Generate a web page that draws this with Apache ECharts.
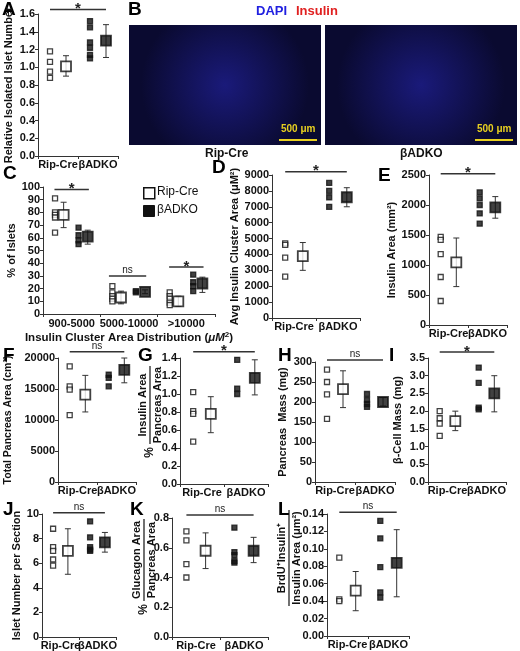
<!DOCTYPE html>
<html><head><meta charset="utf-8">
<script src="https://cdn.jsdelivr.net/npm/echarts@6/dist/echarts.min.js"></script>
<style>html,body{margin:0;background:#fff}#main{width:520px;height:651px}</style>
</head><body><div id="main"></div>
<script>
var cats = ['Rip-Cre', 'βADKO'];
var cCats = ['900-5000', '5000-10000', '>10000'];

// panel A
var aRip = [1.18, 1.06, 0.95, 0.88], aKO = [1.52, 1.45, 1.28, 1.22, 1.14, 1.10];
var aMean = [1.01, 1.30], aErr = [[0.90, 1.13], [1.11, 1.48]];
// panel C (one row per distribution bin)
var cRip = [[91, 80, 78, 76, 64], [22, 17, 14, 12, 10], [17, 14, 12, 9, 7]];
var cKO = [[68, 62, 58, 55], [18, 17], [31, 25, 22, 18]];
var cRipMean = [78, 13, 10], cKOMean = [61, 17.5, 24];
var cRipErr = [[68, 88], [8, 18], [6, 14]], cKOErr = [[55, 66], [16, 19], [17, 29]];
// panel D
var dRip = [4700, 4600, 3800, 2600], dKO = [8500, 8000, 7600, 7000];
var dMean = [3900, 7600], dErr = [[3000, 4750], [7000, 8200]];
// panel E
var eRip = [1470, 1420, 1180, 800, 400], eKO = [2210, 2110, 2000, 1860, 1690];
var eMean = [1045, 1960], eErr = [[640, 1450], [1780, 2140]];
// panel F
var fRip = [18650, 15430, 14900, 10800], fKO = [20380, 17300, 16800, 15430];
var fMean = [14100, 18100], fErr = [[11300, 17200], [16000, 20000]];
// panel G
var gRip = [1.02, 0.81, 0.78, 0.47], gKO = [1.42, 1.38, 1.06, 1.00];
var gMean = [0.78, 1.18], gErr = [[0.57, 0.97], [0.99, 1.38]];
// panel H
var hRip = [281, 250, 219, 158], hKO = [220, 205, 195, 188];
var hMean = [232, 200], hErr = [[186, 278], [190, 211]];
// panel I
var iRip = [2.0, 1.8, 1.65, 1.3], iKO = [3.23, 2.8, 2.1, 2.05];
var iMean = [1.72, 2.5], iErr = [[1.45, 2.0], [1.98, 3.0]];
// panel J
var jRip = [8.8, 7.3, 7.0, 6.3, 5.8], jKO = [9.4, 8.1, 7.3, 7.1, 7.0];
var jMean = [7.0, 7.7], jErr = [[5.1, 8.8], [6.9, 8.5]];
// panel K
var kRip = [0.71, 0.65, 0.49, 0.40], kKO = [0.735, 0.57, 0.55, 0.51, 0.50];
var kMean = [0.58, 0.58], kErr = [[0.46, 0.70], [0.50, 0.67]];
// panel L
var lRip = [0.09, 0.042, 0.040], lKO = [0.132, 0.112, 0.079, 0.05, 0.044];
var lMean = [0.052, 0.084], lErr = [[0.029, 0.074], [0.045, 0.122]];

var FONT = 'Liberation Sans, Arial, sans-serif';
var chart = echarts.init(document.getElementById('main'));
var grids = [], xAxes = [], yAxes = [], series = [], graphics = [];
var sigText = {};

function errRender(params, api) {
    var x = api.value(0);
    var lo = api.coord([x, api.value(1)]), hi = api.coord([x, api.value(2)]);
    var st = { stroke: '#333', lineWidth: 1 };
    return { type: 'group', children: [
        { type: 'line', shape: { x1: lo[0], y1: lo[1], x2: hi[0], y2: hi[1] }, style: st },
        { type: 'line', shape: { x1: lo[0] - 3, y1: lo[1], x2: lo[0] + 3, y2: lo[1] }, style: st },
        { type: 'line', shape: { x1: hi[0] - 3, y1: hi[1], x2: hi[0] + 3, y2: hi[1] }, style: st }
    ] };
}
function sigRender(params, api) {
    var a = api.coord([api.value(0), api.value(2)]), b = api.coord([api.value(1), api.value(2)]);
    var txt = sigText[params.seriesIndex];
    var star = txt === '*';
    return { type: 'group', children: [
        { type: 'line', shape: { x1: a[0], y1: a[1], x2: b[0], y2: b[1] }, style: { stroke: '#333', lineWidth: 1.5 } },
        { type: 'text', style: { x: (a[0] + b[0]) / 2, y: a[1] + (star ? 7 : -1), text: txt, align: 'center', verticalAlign: 'bottom',
            font: star ? 'bold 15px ' + FONT : '10px ' + FONT, fill: '#222' } }
    ] };
}

// each panel: value x axis (placement, ticks) + category x axis (labels only)
function addAxes(g, nCats, labels, yMin, yMax, yInt, yName, nameGap, fmt, labelMargin) {
    var i = grids.length;
    grids.push({ left: g[0], top: g[1], width: g[2], height: g[3] });
    var tv = [];
    for (var k = 0; k <= nCats; k++) tv.push(k);
    xAxes.push({ gridIndex: i, type: 'value', min: 0, max: nCats,
        axisLine: { lineStyle: { color: '#333' } }, splitLine: { show: false },
        axisTick: { customValues: tv, length: 3, lineStyle: { color: '#333' } },
        axisLabel: { show: false } });
    xAxes.push({ gridIndex: i, type: 'category', data: labels, position: 'bottom',
        axisLine: { show: false }, axisTick: { show: false }, splitLine: { show: false },
        axisLabel: { interval: 0, margin: labelMargin || 3, color: '#111', fontWeight: 'bold', fontSize: 11, fontFamily: FONT } });
    yAxes.push({ gridIndex: i, type: 'value', min: yMin, max: yMax, interval: yInt,
        name: yName, nameLocation: 'middle', nameGap: nameGap,
        nameTextStyle: { color: '#111', fontWeight: 'bold', fontSize: 11, fontFamily: FONT },
        axisLine: { show: true, lineStyle: { color: '#333' } }, splitLine: { show: false },
        axisTick: { length: 3, lineStyle: { color: '#333' } },
        axisLabel: { margin: 3, color: '#111', fontSize: 11, fontWeight: 'bold', fontFamily: FONT,
            formatter: fmt || function (v) { return String(v); } } });
    return i;
}
function pts(i, x, vals, filled, size) {
    series.push({ type: 'scatter', xAxisIndex: 2 * i, yAxisIndex: i, symbol: 'rect', symbolSize: size, z: 5,
        data: vals.map(function (v) { return [x, v]; }),
        itemStyle: { color: filled ? '#111' : '#fff', borderColor: '#111', borderWidth: size > 6 ? 1.8 : 1.3 } });
}
function group(i, base, off, rip, ko, mean, err) {
    pts(i, base + off[0], rip, false, 5);
    pts(i, base + off[2], ko, true, 5);
    series.push({ type: 'custom', xAxisIndex: 2 * i, yAxisIndex: i, renderItem: errRender, z: 3,
        data: [[base + off[1], err[0][0], err[0][1]], [base + off[3], err[1][0], err[1][1]]] });
    pts(i, base + off[1], [mean[0]], false, 10);
    pts(i, base + off[3], [mean[1]], true, 10);
}
function sig(i, x1, x2, y, txt) {
    sigText[series.length] = txt;
    series.push({ type: 'custom', xAxisIndex: 2 * i, yAxisIndex: i, renderItem: sigRender, clip: false, data: [[x1, x2, y]] });
}
function panel(g, yMin, yMax, yInt, yName, nameGap, rip, ko, mean, err, sigY, sigTxt, fmt) {
    var i = addAxes(g, 2, cats, yMin, yMax, yInt, yName, nameGap, fmt);
    group(i, 0, [0.3, 0.7, 1.3, 1.7], rip, ko, mean, err);
    sig(i, 0.3, 1.7, sigY, sigTxt);
    return i;
}
var f1 = function (v) { return v.toFixed(1); };
var f2 = function (v) { return v.toFixed(2); };

panel([38, 14, 80, 142], 0, 1.6, 0.2, 'Relative Isolated Islet Number', 24, aRip, aKO, aMean, aErr, 1.65, '*', f1);

// panel C
var ci = addAxes([43, 187, 172, 127], 3, cCats, 0, 100, 10, '% of Islets', 25, null, 4);
xAxes[2 * ci + 1].name = 'Insulin Cluster Area Distribution ({i|μM}{s|2})';
xAxes[2 * ci + 1].nameLocation = 'middle'; xAxes[2 * ci + 1].nameGap = 17;
xAxes[2 * ci + 1].nameTextStyle = { color: '#111', fontWeight: 'bold', fontSize: 11.5, fontFamily: FONT,
    rich: { i: { fontStyle: 'italic', fontWeight: 'bold', fontSize: 11.5, fontFamily: FONT },
            s: { fontSize: 8, fontWeight: 'bold', verticalAlign: 'top', padding: [0, 0, 6, 0] } } };
var cOff = [0.21, 0.36, 0.62, 0.78];
for (var k = 0; k < 3; k++) group(ci, k, cOff, cRip[k], cKO[k], [cRipMean[k], cKOMean[k]], [cRipErr[k], cKOErr[k]]);
sig(ci, 0.2, 0.8, 98, '*'); sig(ci, 1.15, 1.8, 30, 'ns'); sig(ci, 2.2, 2.8, 37, '*');

panel([272, 175, 88, 143], 0, 9000, 1000, 'Avg Insulin Cluster Area (μM²)', 32, dRip, dKO, dMean, dErr, 9200, '*');
panel([429, 175, 78, 150], 0, 2500, 500, 'Insulin Area (mm²)', 32, eRip, eKO, eMean, eErr, 2520, '*');
var fi = panel([58, 358, 78, 124], 0, 20000, 5000, 'Total Pancreas Area (cm²)', 44, fRip, fKO, fMean, fErr, 21000, 'ns');
yAxes[fi].nameTextStyle.fontSize = 10.5;
panel([180, 358, 88, 126], 0, 1.4, 0.2, '', 24, gRip, gKO, gMean, gErr, 1.47, '*', f1);
panel([315, 362, 80, 120], 0, 300, 50, 'Pancreas  Mass (mg)', 27, hRip, hKO, hMean, hErr, 305, 'ns');
panel([428, 358, 78, 124], 0, 3.5, 0.5, 'β-Cell Mass (mg)', 25, iRip, iKO, iMean, iErr, 3.67, '*', f1);
panel([42, 514, 74, 124], 0, 10, 2, 'Islet Number per Section', 19, jRip, jKO, jMean, jErr, 10.1, 'ns');
panel([172, 518, 96, 120], 0, 0.8, 0.2, '', 24, kRip, kKO, kMean, kErr, 0.82, 'ns', f1);
panel([327, 514, 82, 122], 0, 0.14, 0.02, '', 30, lRip, lKO, lMean, lErr, 0.142, 'ns', f2);

// panel letters
[['A', 2, 0], ['B', 128, 0], ['C', 3, 164], ['D', 212, 158], ['E', 378, 166], ['F', 3, 346], ['G', 138, 346],
 ['H', 278, 346], ['I', 389, 346], ['J', 3, 500], ['K', 130, 500], ['L', 278, 500]].forEach(function (p) {
    graphics.push({ type: 'text', left: p[1], top: p[2], style: { text: p[0], font: 'bold 19px ' + FONT, fill: '#000' } });
});

// rotated fraction labels (G, K, L): numerator on the left, reading bottom to top
function frac(cx, cy, w, num, den, pre) {
    var ch = [
        { type: 'line', shape: { x1: -w / 2, y1: 0, x2: w / 2, y2: 0 }, style: { stroke: '#111', lineWidth: 1.2 } },
        { type: 'text', style: { x: 0, y: -2, text: num, align: 'center', verticalAlign: 'bottom', font: 'bold 11px ' + FONT, fill: '#111' } },
        { type: 'text', style: { x: 0, y: 2, text: den, align: 'center', verticalAlign: 'top', font: 'bold 11px ' + FONT, fill: '#111' } }
    ];
    if (pre) ch.push({ type: 'text', style: { x: -w / 2 - 3, y: 0, text: pre, align: 'right', verticalAlign: 'middle', font: 'bold 12px ' + FONT, fill: '#111' } });
    graphics.push({ type: 'group', x: cx, y: cy, rotation: Math.PI / 2, children: ch });
}
frac(150, 405, 78, 'Insulin Area', 'Pancreas Area', '%');
frac(144, 560, 82, 'Glucagon Area', 'Pancreas Area', '%');
frac(289, 558, 96, 'BrdU⁺Insulin⁺', 'Insulin Area (μm²)', '');

// legend of C
graphics.push({ type: 'rect', left: 143, top: 187, shape: { width: 11, height: 11 }, style: { fill: '#fff', stroke: '#111', lineWidth: 1.5 } });
graphics.push({ type: 'text', left: 157, top: 186, style: { text: 'Rip-Cre', font: '12px ' + FONT, fill: '#111' } });
graphics.push({ type: 'rect', left: 143, top: 205, shape: { width: 11, height: 11 }, style: { fill: '#111', stroke: '#111' } });
graphics.push({ type: 'text', left: 157, top: 204, style: { text: 'βADKO', font: '12px ' + FONT, fill: '#111' } });

// panel B image placeholders
[[129, 'Rip-Cre', 225], [325, 'βADKO', 420]].forEach(function (b) {
    graphics.push({ type: 'rect', left: b[0], top: 25, shape: { width: 192, height: 120 },
        style: { fill: { type: 'radial', x: 0.5, y: 0.5, r: 0.7, colorStops: [{ offset: 0, color: '#1a1a7a' }, { offset: 1, color: '#0a0a30' }] } } });
    graphics.push({ type: 'text', left: b[2] - 20, top: 148, style: { text: b[1], font: 'bold 12px ' + FONT, fill: '#111' } });
    graphics.push({ type: 'line', shape: { x1: b[0] + 150, y1: 140, x2: b[0] + 188, y2: 140 }, style: { stroke: '#e8d020', lineWidth: 2 } });
    graphics.push({ type: 'text', left: b[0] + 152, top: 124, style: { text: '500 μm', font: 'bold 10px ' + FONT, fill: '#e8d020' } });
});
graphics.push({ type: 'text', left: 256, top: 5, style: { text: 'DAPI', font: 'bold 13px ' + FONT, fill: '#2020e0' } });
graphics.push({ type: 'text', left: 296, top: 5, style: { text: 'Insulin', font: 'bold 13px ' + FONT, fill: '#e02020' } });

chart.setOption({ animation: false, grid: grids, xAxis: xAxes, yAxis: yAxes, series: series, graphic: graphics });
</script>
</body></html>
